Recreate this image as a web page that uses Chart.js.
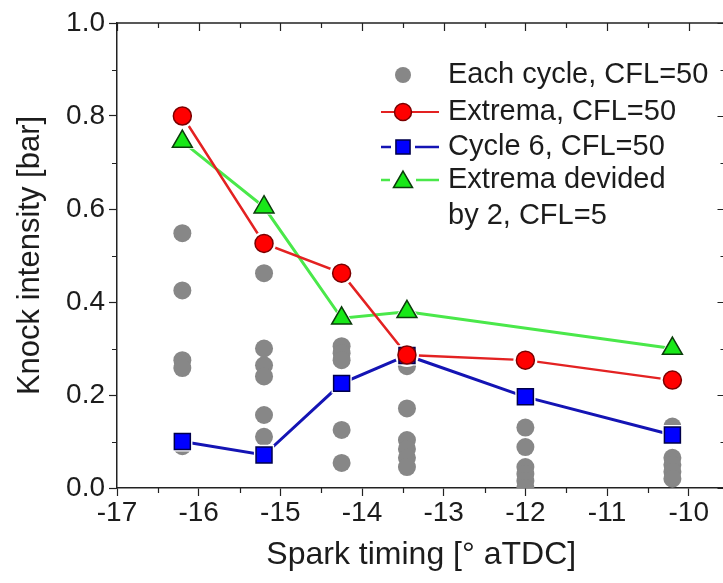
<!DOCTYPE html>
<html><head><meta charset="utf-8">
<script src="https://cdn.jsdelivr.net/npm/chart.js@4/dist/chart.umd.min.js"></script>
<style>html,body{margin:0;padding:0;overflow:hidden;background:#fff}</style>
</head><body>
<div style="width:740px;height:583px;position:relative"><canvas id="c" width="740" height="583"></canvas></div>
<script>
// ---- data ----
const sparkTiming = [-16.2, -15.2, -14.25, -13.45, -12.0, -10.2];
const eachCycle = [
  [0.548, 0.425, 0.275, 0.258, 0.090],
  [0.462, 0.300, 0.264, 0.240, 0.157, 0.110],
  [0.305, 0.290, 0.275, 0.125, 0.054],
  [0.262, 0.171, 0.103, 0.084, 0.065, 0.045],
  [0.130, 0.088, 0.045, 0.030, 0.015, 0.000],
  [0.132, 0.065, 0.050, 0.035, 0.020]
];
const extrema50 = [0.800, 0.526, 0.462, 0.286, 0.275, 0.232];
const cycle6 = [0.100, 0.071, 0.225, 0.285, 0.196, 0.114];
const halfTiming = [-16.2, -15.2, -14.25, -13.45, -10.2];
const extremaHalf5 = [0.745, 0.604, 0.365, 0.379, 0.300];
const xTicks = [-17, -16, -15, -14, -13, -12, -11, -10];
const yTicks = [0.0, 0.2, 0.4, 0.6, 0.8, 1.0];
const legendLabels = ['Each cycle, CFL=50', 'Extrema, CFL=50', 'Cycle 6, CFL=50', ['Extrema devided', 'by 2, CFL=5']];

// ---- build ----
const pts = (xs, ys) => xs.map((x, i) => ({x, y: ys[i]}));
const grayPts = [];
eachCycle.forEach((col, i) => col.forEach(v => grayPts.push({x: sparkTiming[i], y: v})));

const FONT = '"Liberation Sans", Arial, sans-serif';
const TXT = '#1c1c1c';
const AX = '#222';

const styles = {
  gray: {pointStyle: 'circle', radius: 9, bg: '#878787', bc: '#878787', bw: 0},
  red: {pointStyle: 'circle', radius: 9, bg: '#ff0000', bc: '#7a0000', bw: 1.5, line: '#e32222', lw: 2.5},
  blue: {pointStyle: 'rect', radius: 11.3, bg: '#0000ff', bc: '#00004a', bw: 1.5, line: '#1414b4', lw: 3},
  green: {pointStyle: 'triangle', radius: 11.5, bg: '#18e818', bc: '#0b3d0b', bw: 1.5, line: '#4ae84a', lw: 3}
};

function markers(label, data, s, order) {
  return {
    label, data, order, showLine: false,
    pointStyle: s.pointStyle, pointRadius: s.radius, pointHoverRadius: s.radius,
    pointBackgroundColor: s.bg, pointBorderColor: s.bc, pointBorderWidth: s.bw,
    borderColor: s.bc, backgroundColor: s.bg
  };
}
function halo(label, data, s, order) {
  return {
    label, data, order, showLine: false,
    pointStyle: s.pointStyle, pointRadius: s.radius + 3, pointHoverRadius: s.radius + 3,
    pointBackgroundColor: '#ffffff', pointBorderColor: '#ffffff', pointBorderWidth: 0
  };
}
function line(label, data, s, order) {
  return {
    label, data, order, showLine: true, pointRadius: 0, pointHoverRadius: 0,
    borderColor: s.line, borderWidth: s.lw, backgroundColor: s.line, tension: 0
  };
}

const framePlugin = {
  id: 'frame',
  afterDraw(chart) {
    const {ctx, chartArea: a, scales: {x, y}} = chart;
    ctx.save();
    ctx.strokeStyle = AX;
    ctx.lineWidth = 1.5;
    ctx.beginPath();
    ctx.moveTo(a.left, a.top); ctx.lineTo(a.right, a.top); ctx.lineTo(a.right, a.bottom);
    ctx.stroke();
    ctx.lineWidth = 1.2;
    ctx.beginPath();
    for (let v = x.min; v <= x.max + 1e-9; v += 0.5) {
      const px = Math.round(x.getPixelForValue(v)) + 0.5;
      const major = Math.abs(v - Math.round(v)) < 1e-6;
      if (!major) { ctx.moveTo(px, a.bottom); ctx.lineTo(px, a.bottom + 5); }
      ctx.moveTo(px, a.top); ctx.lineTo(px, a.top + (major ? 8 : 5));
    }
    for (let i = 0; i <= 10; i++) {
      const v = i / 10;
      const py = Math.round(y.getPixelForValue(v)) + 0.5;
      const major = i % 2 === 0;
      if (!major) { ctx.moveTo(a.left, py); ctx.lineTo(a.left - 5, py); }
      ctx.moveTo(a.right, py); ctx.lineTo(a.right - (major ? 8 : 5), py);
    }
    ctx.stroke();
    ctx.restore();
  }
};

const legendPlugin = {
  id: 'customLegend',
  afterDraw(chart) {
    const ctx = chart.ctx;
    const rows = [75, 112, 147, 180];
    const keys = ['gray', 'red', 'blue', 'green'];
    const mx = 403, x0 = 381, x1 = 439, tx = 448;
    ctx.save();
    ctx.font = '29px ' + FONT;
    ctx.textBaseline = 'middle';
    keys.forEach((k, i) => {
      const s = styles[k];
      const yy = rows[i];
      const r = k === 'gray' ? 8 : (k === 'red' ? 8.5 : (k === 'blue' ? 10 : 11));
      if (s.line) {
        const gap = k === 'red' ? 0 : r + 2;
        ctx.strokeStyle = s.line; ctx.lineWidth = s.lw - 0.5;
        ctx.beginPath();
        ctx.moveTo(x0, yy); ctx.lineTo(mx - gap, yy);
        ctx.moveTo(mx + gap, yy); ctx.lineTo(x1, yy);
        ctx.stroke();
      }
      ctx.fillStyle = s.bg; ctx.strokeStyle = s.bc; ctx.lineWidth = s.bw;
      Chart.helpers.drawPoint(ctx, {pointStyle: s.pointStyle, rotation: 0, radius: r, borderWidth: s.bw}, mx, yy + (k === 'green' ? 2 : 0));
      ctx.fillStyle = TXT;
      const lab = legendLabels[i];
      if (Array.isArray(lab)) { lab.forEach((t, j) => ctx.fillText(t, tx, yy + j * 36)); }
      else ctx.fillText(lab, tx, yy);
    });
    ctx.restore();
  }
};

const redPts = pts(sparkTiming, extrema50);
const bluePts = pts(sparkTiming, cycle6);
const greenPts = pts(halfTiming, extremaHalf5);
const greenLabel = legendLabels[3].join(' ');

new Chart(document.getElementById('c'), {
  type: 'scatter',
  data: {
    datasets: [
      markers(legendLabels[0], grayPts, styles.gray, 30),
      line(legendLabels[1], redPts, styles.red, 21),
      line(legendLabels[2], bluePts, styles.blue, 22),
      line(greenLabel, greenPts, styles.green, 23),
      halo(legendLabels[1], redPts, styles.red, 11),
      halo(legendLabels[2], bluePts, styles.blue, 12),
      halo(greenLabel, greenPts, styles.green, 13),
      markers(legendLabels[1], redPts, styles.red, 1),
      markers(legendLabels[2], bluePts, styles.blue, 2),
      markers(greenLabel, greenPts, styles.green, 3)
    ]
  },
  options: {
    responsive: false,
    animation: false,
    events: [],
    devicePixelRatio: 1,
    layout: {padding: {top: 23, right: 12, left: 0, bottom: 0}},
    plugins: {legend: {display: false}, tooltip: {enabled: false}},
    scales: {
      x: {
        type: 'linear', min: -17, max: -9.55,
        afterBuildTicks: s => { s.ticks = xTicks.map(v => ({value: v})); },
        afterFit: s => { s.height = 95; },
        ticks: {font: {family: FONT, size: 28}, color: TXT, padding: 0, maxRotation: 0, callback: v => String(v)},
        grid: {drawOnChartArea: false, drawTicks: true, tickLength: 8, tickColor: AX, tickWidth: 1.2},
        border: {display: true, color: AX, width: 1.5},
        title: {display: true, text: 'Spark timing [\u00b0 aTDC]', font: {family: FONT, size: 32}, color: TXT, padding: {top: 0, bottom: 9}}
      },
      y: {
        type: 'linear', min: 0, max: 1,
        afterBuildTicks: s => { s.ticks = yTicks.map(v => ({value: v})); },
        afterFit: s => { s.width = 117; },
        ticks: {font: {family: FONT, size: 28}, color: TXT, padding: 4, callback: v => Number(v).toFixed(1)},
        grid: {drawOnChartArea: false, drawTicks: true, tickLength: 8, tickColor: AX, tickWidth: 1.2},
        border: {display: true, color: AX, width: 1.5},
        title: {display: true, text: 'Knock intensity [bar]', font: {family: FONT, size: 31}, color: TXT, padding: {top: 12, bottom: 0}}
      }
    }
  },
  plugins: [framePlugin, legendPlugin]
});
</script>
</body></html>
